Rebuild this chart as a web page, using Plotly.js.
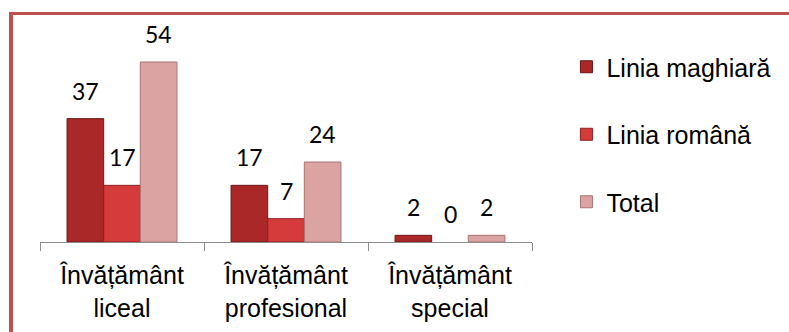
<!DOCTYPE html>
<html>
<head>
<meta charset="utf-8">
<script src="https://cdn.plot.ly/plotly-3.0.1.min.js"></script>
<style>
  html, body { margin: 0; padding: 0; background: #ffffff; }
  #wrap { position: relative; width: 789px; height: 332px; overflow: hidden; }
  #chart { width: 789px; height: 332px; }
  #frame { position: absolute; left: 9px; top: 12px; width: 800px; height: 340px;
           border-top: 3px solid #c0504d; border-left: 4px solid #c0504d;
           pointer-events: none; box-sizing: border-box; }
</style>
</head>
<body>
<div id="wrap">
  <div id="chart"></div>
  <div id="frame"></div>
</div>
<script>
const categories = ["Învățământ<br>liceal", "Învățământ<br>profesional", "Învățământ<br>special"];
const seriesNames = ["Linia maghiară", "Linia română", "Total"];
const liniaMaghiara = [37, 17, 2];
const liniaRomana = [17, 7, 0];
const total = [54, 24, 2];

const seriesValues = [liniaMaghiara, liniaRomana, total];
const fills = ["#ab2828", "#d63b3b", "#dca3a3"];
const edges = ["#6b1515", "#8e1f1f", "#a87474"];

const W = 789, H = 332;
const margin = { l: 40, r: 257, t: 42, b: 90, pad: 0 };
const bargap = 0.33;
const plotW = W - margin.l - margin.r;
const catPx = plotW / categories.length;
const barPx = catPx * (1 - bargap) / seriesValues.length;

const traces = seriesValues.map((vals, i) => ({
  type: "bar",
  name: seriesNames[i],
  x: categories,
  y: vals,
  legendgroup: "g" + i,
  marker: { color: fills[i], line: { color: edges[i], width: vals.map(v => v > 0 ? 1 : 0) } },
  cliponaxis: false,
  hoverinfo: "skip"
}));

const annotations = [];
seriesValues.forEach((vals, i) => {
  vals.forEach((v, j) => {
    annotations.push({
      x: categories[j], y: v, xref: "x", yref: "y",
      text: String(v), showarrow: false,
      xanchor: "center", yanchor: "bottom",
      xshift: (i - (seriesValues.length - 1) / 2) * barPx,
      yshift: 12,
      font: { family: "Lato, 'Open Sans', sans-serif", size: 23, color: "#000000" }
    });
  });
});

const layout = {
  width: W,
  height: H,
  margin: margin,
  paper_bgcolor: "#ffffff",
  plot_bgcolor: "#ffffff",
  barmode: "group",
  bargap: bargap,
  bargroupgap: 0,
  showlegend: true,
  annotations: annotations,
  legend: {
    x: 1.07, xanchor: "left",
    y: 0.99, yanchor: "top",
    traceorder: "grouped",
    tracegroupgap: 32,
    font: { family: "'Liberation Sans', Arial, sans-serif", size: 25, color: "#000000" },
    bgcolor: "rgba(0,0,0,0)"
  },
  xaxis: {
    type: "category",
    showline: true,
    linecolor: "#8c8c8c",
    linewidth: 1,
    ticks: "outside",
    tickson: "boundaries",
    ticklen: 8,
    tickcolor: "#8c8c8c",
    ticklabelstandoff: 11,
    tickfont: { family: "'Liberation Sans', Arial, sans-serif", size: 25, color: "#000000" },
    showgrid: false,
    zeroline: false,
    fixedrange: true
  },
  yaxis: {
    range: [0, 60],
    visible: false,
    showgrid: false,
    zeroline: false,
    fixedrange: true
  }
};

Plotly.newPlot("chart", traces, layout, { displayModeBar: false, staticPlot: true });
</script>
</body>
</html>
